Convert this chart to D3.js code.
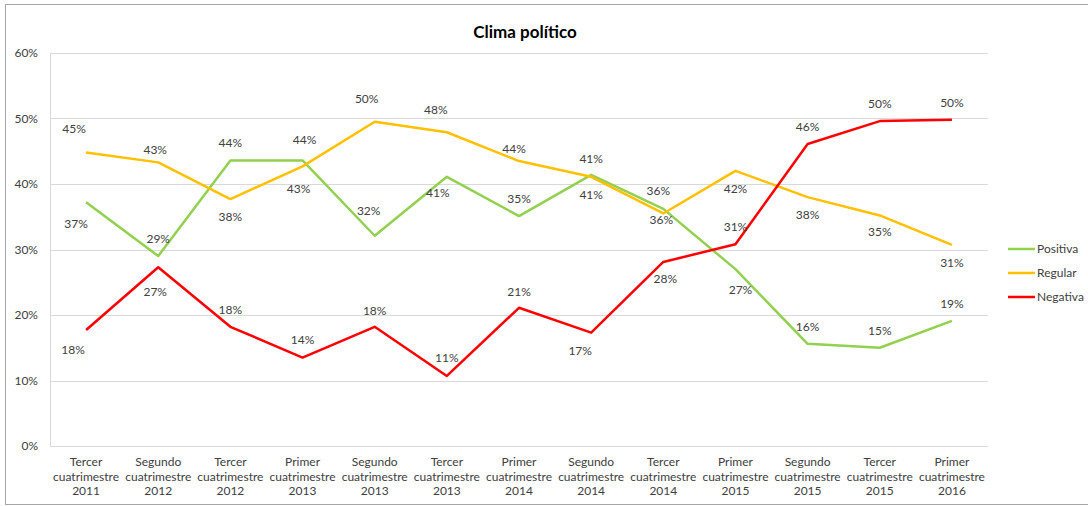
<!DOCTYPE html>
<html>
<head>
<meta charset="utf-8">
<script src="https://cdn.jsdelivr.net/npm/d3@7"></script>
<style>
  body { margin: 0; background: #fff; }
  text { font-family: Lato, "Open Sans", sans-serif; fill: #404040; }
</style>
</head>
<body>
<div id="chart"></div>
<script>
var width = 1088,
    height = 506;

var categories = [
  ["Tercer", "cuatrimestre", "2011"],
  ["Segundo", "cuatrimestre", "2012"],
  ["Tercer", "cuatrimestre", "2012"],
  ["Primer", "cuatrimestre", "2013"],
  ["Segundo", "cuatrimestre", "2013"],
  ["Tercer", "cuatrimestre", "2013"],
  ["Primer", "cuatrimestre", "2014"],
  ["Segundo", "cuatrimestre", "2014"],
  ["Tercer", "cuatrimestre", "2014"],
  ["Primer", "cuatrimestre", "2015"],
  ["Segundo", "cuatrimestre", "2015"],
  ["Tercer", "cuatrimestre", "2015"],
  ["Primer", "cuatrimestre", "2016"]
];

var positiva = [37.2, 29.0, 43.6, 43.6, 32.1, 41.1, 35.1, 41.4, 36.2, 27.0, 15.6, 15.0, 19.1];
var regular  = [44.8, 43.3, 37.7, 42.7, 49.5, 47.9, 43.5, 41.1, 35.5, 42.0, 38.0, 35.2, 30.7];
var negativa = [17.7, 27.3, 18.2, 13.5, 18.2, 10.7, 21.1, 17.3, 28.1, 30.8, 46.1, 49.6, 49.8];

var yTicks = [0, 10, 20, 30, 40, 50, 60];

// label nudges [dx, dy] relative to each point
var posOff = [[-10,22],[0,-17],[0,-17],[2,-20],[-6,-25],[-9,16],[0,-17],[0,-16],[-5,-18],[5,21],[0,-17],[0,-17],[0,-17]];
var regOff = [[-12,-24],[-3,-12],[0,18],[-4,23],[-8,-23],[-11,-22],[-5,-12],[0,18],[-2,7],[0,18],[0,18],[0,17],[0,18]];
var negOff = [[-13,20],[-3,25],[0,-17],[0,-18],[0,-16],[0,-18],[0,-16],[-11,18],[2,17],[0,-17],[0,-17],[0,-17],[0,-17]];

var series = [
  {name: "Positiva", values: positiva, color: "#92d050", off: posOff},
  {name: "Regular",  values: regular,  color: "#ffc000", off: regOff},
  {name: "Negativa", values: negativa, color: "#ff0000", off: negOff}
];

var margin = {left: 50, top: 53, right: 988, bottom: 446};

var svg = d3.select("#chart")
    .append("svg")
    .attr("width", width)
    .attr("height", height);

svg.append("rect")
    .attr("x", 5.5).attr("y", 4.5)
    .attr("width", 1100).attr("height", 500)
    .attr("fill", "none")
    .attr("stroke", "#a6a6a6");

var x = d3.scaleBand()
    .domain(d3.range(categories.length))
    .range([margin.left, margin.right]);

var y = d3.scaleLinear()
    .domain([0, 60])
    .range([margin.bottom, margin.top]);

// gridlines
svg.selectAll(".grid")
    .data(yTicks)
    .enter().append("line")
    .attr("class", "grid")
    .attr("x1", margin.left).attr("x2", margin.right)
    .attr("y1", function(d) { return Math.round(y(d)) + 0.5; })
    .attr("y2", function(d) { return Math.round(y(d)) + 0.5; })
    .attr("stroke", "#d9d9d9");

svg.append("line")
    .attr("x1", margin.left + 0.5).attr("x2", margin.left + 0.5)
    .attr("y1", margin.top).attr("y2", margin.bottom)
    .attr("stroke", "#d9d9d9");

svg.selectAll(".ylab")
    .data(yTicks)
    .enter().append("text")
    .attr("class", "ylab")
    .attr("x", 38)
    .attr("y", function(d) { return y(d) + 4; })
    .attr("text-anchor", "end")
    .attr("font-size", "12px")
    .text(function(d) { return d + "%"; });

var xl = svg.selectAll(".xlab")
    .data(categories)
    .enter().append("text")
    .attr("class", "xlab")
    .attr("text-anchor", "middle")
    .attr("font-size", "12px")
    .attr("transform", function(d, i) { return "translate(" + (x(i) + x.bandwidth() / 2) + ",466)"; });

xl.selectAll("tspan")
    .data(function(d) { return d; })
    .enter().append("tspan")
    .attr("x", 0)
    .attr("y", function(d, j) { return j * 14.5; })
    .text(function(d) { return d; });

svg.append("text")
    .attr("x", 525)
    .attr("y", 38)
    .attr("text-anchor", "middle")
    .attr("font-size", "17px")
    .attr("font-weight", "bold")
    .style("fill", "#000")
    .text("Clima político");

var line = d3.line()
    .x(function(d, i) { return x(i) + x.bandwidth() / 2; })
    .y(function(d) { return y(d); });

series.forEach(function(s) {
    svg.append("path")
        .datum(s.values)
        .attr("d", line)
        .attr("fill", "none")
        .attr("stroke", s.color)
        .attr("stroke-width", 2.5)
        .attr("stroke-linejoin", "round");
});

series.forEach(function(s) {
    svg.selectAll(".lab-" + s.name)
        .data(s.values)
        .enter().append("text")
        .attr("text-anchor", "middle")
        .attr("font-size", "12px")
        .attr("x", function(d, i) { return x(i) + x.bandwidth() / 2 + s.off[i][0]; })
        .attr("y", function(d, i) { return y(d) + s.off[i][1] + 4; })
        .text(function(d) { return Math.round(d) + "%"; });
});

var legend = svg.selectAll(".legend")
    .data(series)
    .enter().append("g")
    .attr("transform", function(d, i) { return "translate(1008," + (249 + i * 24) + ")"; });

legend.append("line")
    .attr("x1", 0).attr("x2", 27)
    .attr("stroke", function(d) { return d.color; })
    .attr("stroke-width", 2.5);

legend.append("text")
    .attr("x", 29)
    .attr("y", 4)
    .attr("font-size", "12px")
    .text(function(d) { return d.name; });
</script>
</body>
</html>
